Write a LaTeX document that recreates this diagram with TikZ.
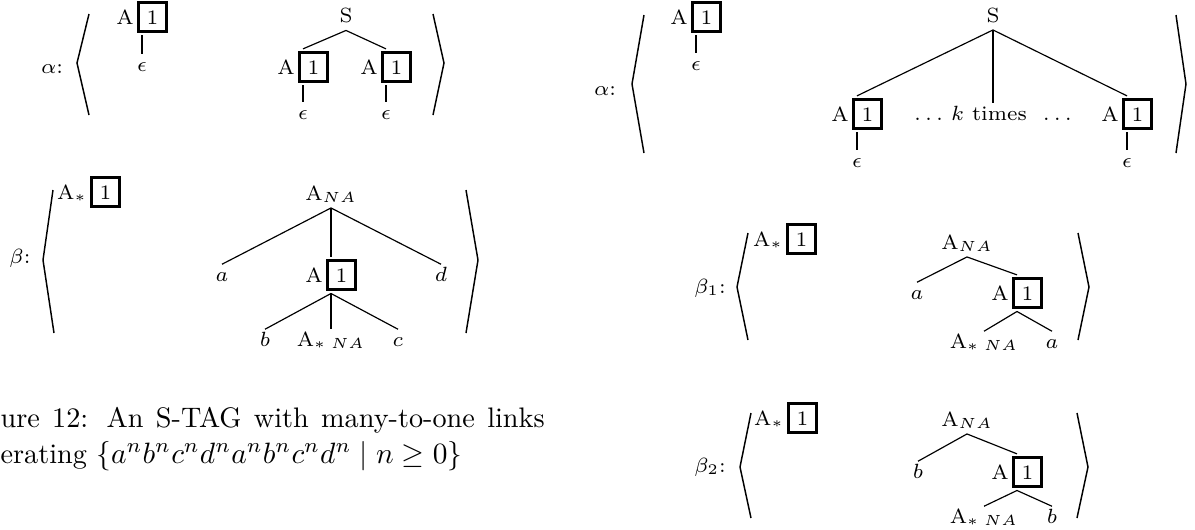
\documentclass[tikz,border=0pt]{standalone}
\usepackage{tikz}

% boxed link index next to a node label
\newcommand{\lnk}[1]{{\setlength{\fboxrule}{1pt}\setlength{\fboxsep}{2.2pt}\fbox{#1}}}

\tikzset{
  tnode/.style={anchor=base, inner sep=0.5pt, font=\scriptsize, text height=5pt, text depth=2pt},
  lnode/.style={anchor=base, inner sep=0.5pt, font=\scriptsize},
  branch/.style={line width=0.4pt},
  linkline/.style={line width=1pt},
  bracket/.style={line width=0.5pt},
  caption/.style={anchor=base west, inner sep=0pt, font=\fontsize{9.6}{11.5}\selectfont}
}

\begin{document}
\begin{tikzpicture}[x=0.34pt, y=-0.34pt]
    \useasboundingbox (0,0) rectangle (1195,529);

    % alpha, left
    \node[tnode] (alpha) at (52,73) {$\alpha$:};
    \draw[bracket] (89,14) -- (77,63) -- (89,115);
    \draw[bracket] (433,14) -- (444,63) -- (433,115);
    \node[lnode] (a0) at (142,24) {A\,\lnk{1}};
    \node[tnode] (e0) at (142,71) {$\epsilon$};
    \node[tnode] (s) at (346,22.5) {S};
    \node[lnode] (a1) at (303,74) {A\,\lnk{1}};
    \node[lnode] (a2) at (386,74) {A\,\lnk{1}};
    \node[tnode] (e1) at (303,119) {$\epsilon$};
    \node[tnode] (e2) at (386,119) {$\epsilon$};
    \draw[linkline] (a0.south) -- (e0.north);
    \draw[branch] (s.south) -- (a1.north);
    \draw[branch] (s.south) -- (a2.north);
    \draw[linkline] (a1.south) -- (e1.north);
    \draw[linkline] (a2.south) -- (e2.north);

    % beta, left
    \node[tnode] (beta) at (20,263) {$\beta$:};
    \draw[bracket] (53,190) -- (43,260) -- (54,333);
    \draw[bracket] (466,190) -- (478,260) -- (466,333);
    \node[lnode] (f0) at (89,199) {A$_*$\,\lnk{1}};
    \node[tnode] (na0) at (331,200) {A$_{NA}$};
    \node[tnode] (ta) at (222,281) {$a$};
    \node[lnode] (a3) at (331,282) {A\,\lnk{1}};
    \node[tnode] (td) at (441,281) {$d$};
    \node[tnode] (tb) at (265,346) {$b$};
    \node[tnode] (f1) at (331,346) {A$_{*\;NA}$};
    \node[tnode] (tc) at (398,346) {$c$};
    \draw[branch] (na0.south) -- (ta.north);
    \draw[branch] (na0.south) -- (td.north);
    \draw[linkline] (na0.south) -- (a3.north);
    \draw[branch] (a3.south) -- (tb.north);
    \draw[branch] (a3.south) -- (tc.north);
    \draw[linkline] (a3.south) -- (f1.north);

    % caption
    \node[caption] (cap1) at (0,427) {\makebox[185pt][s]{ure 12: An S-TAG with many-to-one links}};
    \node[caption] (cap2) at (0,463) {erating $\{a^nb^nc^nd^na^nb^nc^nd^n \mid n \geq 0\}$};

    % alpha, right
    \node[tnode] (alpha2) at (605,95) {$\alpha$:};
    \draw[bracket] (644,15) -- (632,84) -- (644,153);
    \draw[bracket] (1176,15) -- (1186,84) -- (1176,153);
    \node[lnode] (a4) at (696,24) {A\,\lnk{1}};
    \node[tnode] (e4) at (696,70) {$\epsilon$};
    \node[tnode] (s2) at (993,22) {S};
    \node[lnode] (a5) at (857,121) {A\,\lnk{1}};
    \node[tnode] (dots) at (993,120) {$\ldots$\ $k$ times\ \ $\ldots$};
    \node[lnode] (a6) at (1127,121) {A\,\lnk{1}};
    \node[tnode] (e5) at (857,167) {$\epsilon$};
    \node[tnode] (e6) at (1127,167) {$\epsilon$};
    \draw[linkline] (a4.south) -- (e4.north);
    \draw[branch] (s2.south) -- (a5.north);
    \draw[linkline] (s2.south) -- (dots.north);
    \draw[branch] (s2.south) -- (a6.north);
    \draw[linkline] (a5.south) -- (e5.north);
    \draw[linkline] (a6.south) -- (e6.north);

    % beta_1
    \node[tnode] (beta1) at (710,293) {$\beta_1$:};
    \draw[bracket] (748,233) -- (737,287) -- (748,340);
    \draw[bracket] (1078,233) -- (1089,287) -- (1078,340);
    \node[lnode] (f2) at (785,246) {A$_*$\,\lnk{1}};
    \node[tnode] (na1) at (967,249) {A$_{NA}$};
    \node[tnode] (ta1) at (917,299) {$a$};
    \node[lnode] (a7) at (1017,300) {A\,\lnk{1}};
    \node[tnode] (f3) at (984,348) {A$_{*\;NA}$};
    \node[tnode] (ta2) at (1052,348) {$a$};
    \draw[branch] (na1.south) -- (ta1.north);
    \draw[branch] (na1.south) -- (a7.north);
    \draw[branch] (a7.south) -- (f3.north);
    \draw[branch] (a7.south) -- (ta2.north);

    % beta_2
    \node[tnode] (beta2) at (710,472) {$\beta_2$:};
    \draw[bracket] (751,413) -- (740,467) -- (751,518);
    \draw[bracket] (1077,413) -- (1088,467) -- (1077,518);
    \node[lnode] (f4) at (786,425) {A$_*$\,\lnk{1}};
    \node[tnode] (na2) at (967,426) {A$_{NA}$};
    \node[tnode] (tb1) at (918,478) {$b$};
    \node[lnode] (a8) at (1017,479) {A\,\lnk{1}};
    \node[tnode] (f5) at (984,523) {A$_{*\;NA}$};
    \node[tnode] (tb2) at (1052,523) {$b$};
    \draw[branch] (na2.south) -- (tb1.north);
    \draw[branch] (na2.south) -- (a8.north);
    \draw[branch] (a8.south) -- (f5.north);
    \draw[branch] (a8.south) -- (tb2.north);
\end{tikzpicture}
\end{document}
